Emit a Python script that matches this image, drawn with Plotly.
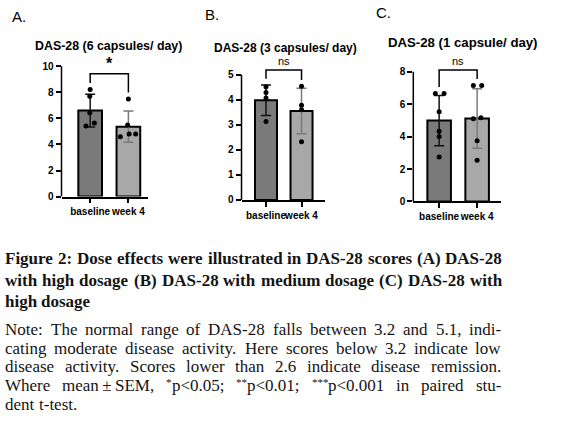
import plotly.graph_objects as go

W, H = 562, 437

# ---------------- data ----------------
groups = ["baseline", "week 4"]

a_title = "DAS-28 (6 capsules/ day)"
a_means = [6.6, 5.37]
a_sd = [1.25, 1.2]
a_base_pts = [8.23, 7.7, 6.44, 5.65, 5.42]
a_wk4_pts = [7.5, 5.5, 4.8, 4.8, 4.6]
a_base_jit = [0.0, -0.01, -0.01, 0.11, -0.11]
a_wk4_jit = [0.0, -0.02, 0.19, 0.02, -0.21]
a_sig = "*"
a_ticks = [0, 2, 4, 6, 8, 10]

b_title = "DAS-28 (3 capsules/ day)"
b_means = [3.98, 3.55]
b_sd = [0.61, 0.91]
b_base_pts = [4.52, 4.29, 4.07, 3.13]
b_wk4_pts = [4.54, 3.78, 3.6, 2.32]
b_base_jit = [0.0, 0.0, 0.0, 0.0]
b_wk4_jit = [0.0, 0.0, 0.0, 0.0]
b_sig = "ns"
b_ticks = [0, 1, 2, 3, 4, 5]

c_title = "DAS-28 (1 capsule/ day)"
c_means = [4.99, 5.12]
c_sd = [1.55, 1.83]
c_base_pts = [6.66, 6.66, 5.53, 4.33, 4.01, 2.75]
c_wk4_pts = [7.15, 7.15, 5.1, 5.17, 3.75, 2.55]
c_base_jit = [-0.1, 0.13, 0.0, 0.0, 0.0, 0.0]
c_wk4_jit = [-0.1, 0.12, -0.1, 0.1, 0.0, 0.0]
c_sig = "ns"
c_ticks = [0, 2, 4, 6, 8]

caption_lines = [
    "Figure 2: Dose effects were illustrated in DAS-28 scores (A) DAS-28",
    "with high dosage (B) DAS-28 with medium dosage (C) DAS-28 with",
    "high dosage",
]
note_lines = [
    "Note: The normal range of DAS-28 falls between 3.2 and 5.1, indi-",
    "cating moderate disease activity. Here scores below 3.2 indicate low",
    "disease activity. Scores lower than 2.6 indicate disease remission.",
    "Where mean\u2009\u00b1\u2009SEM, *p<0.05; **p<0.01; ***p<0.001 in paired stu-",
    "dent t-test.",
]
caption_justified = [True, True, False]
note_justified = [True, True, True, True, False]

# ---------------- layout geometry (pixels) ----------------
panels = [
    dict(letter="A.", title=a_title, means=a_means, sd=a_sd,
         pts=[a_base_pts, a_wk4_pts], jit=[a_base_jit, a_wk4_jit], sig=a_sig,
         ticks=a_ticks, xpx=(61.5, 147.5), xr=(-0.75, 1.5), ypx=(56.7, 199.3), ytop=10.8,
         letter_xy=(10, 17), title_xy=(108, 47), title_size=12.4),
    dict(letter="B.", title=b_title, means=b_means, sd=b_sd,
         pts=[b_base_pts, b_wk4_pts], jit=[b_base_jit, b_wk4_jit], sig=b_sig,
         ticks=b_ticks, xpx=(241.5, 324.6), xr=(-0.69, 1.65), ypx=(55.4, 202.7), ytop=5.8,
         letter_xy=(203, 15), title_xy=(285, 49), title_size=12),
    dict(letter="C.", title=c_title, means=c_means, sd=c_sd,
         pts=[c_base_pts, c_wk4_pts], jit=[c_base_jit, c_wk4_jit], sig=c_sig,
         ticks=c_ticks, xpx=(413.3, 500.7), xr=(-0.68, 1.62), ypx=(53, 204.3), ytop=9.2,
         letter_xy=(374, 13), title_xy=(463, 43), title_size=13.2),
]

bar_fill = ["#7a7a7a", "#a8a8a8"]
err_col = ["#111111", "#7a7a7a"]
FONT = "Arial, Liberation Sans, sans-serif"
SERIF = "Liberation Serif, Times New Roman, serif"
TEXT_COL = "#141414"

# Times (Liberation Serif) advance widths, 1/1000 em, used to justify caption lines
_reg = {" ": 250, "(": 333, ")": 333, ",": 250, "-": 333, ".": 250, ":": 278, ";": 278,
        "<": 564, "\u00b1": 564, "*": 500, "\u2009": 200,
        "A": 722, "D": 722, "E": 611, "H": 722, "M": 889, "N": 722, "S": 556, "T": 611,
        "W": 944, "a": 444, "b": 500, "c": 444, "d": 500, "e": 444, "f": 333, "g": 500,
        "h": 500, "i": 278, "k": 500, "l": 278, "m": 778, "n": 500, "o": 500, "p": 500,
        "r": 333, "s": 389, "t": 278, "u": 500, "v": 500, "w": 722, "y": 500}
_bold = {" ": 250, "(": 333, ")": 333, ",": 250, "-": 333, ".": 250, ":": 333,
         "A": 722, "B": 667, "C": 722, "D": 722, "F": 611, "S": 556,
         "a": 500, "b": 556, "c": 444, "d": 556, "e": 444, "f": 333, "g": 500, "h": 556,
         "i": 278, "l": 278, "m": 833, "n": 556, "o": 500, "r": 444, "s": 389, "t": 333,
         "u": 556, "w": 722, "y": 500}


def tw(s, table, size):
    return sum(table.get(ch, 500) for ch in s) / 1000.0 * size


def esc(s):
    return s.replace("<", "&lt;")


def add_text_line(anns, line, y, size, bold, justify, xl, xr):
    table = _bold if bold else _reg
    sup_size = size * 0.65
    words = line.split(" ")
    parts = []
    for w in words:
        k = len(w) - len(w.lstrip("*"))
        sup, main = w[:k], w[k:]
        width = tw(sup, _reg, sup_size) + tw(main, table, size)
        parts.append((sup, main, width))
    total = sum(p[2] for p in parts)
    if justify and len(parts) > 1:
        gap = (xr - xl - total) / (len(parts) - 1)
    else:
        gap = tw(" ", table, size)
    x = xl
    font = dict(family=SERIF, size=size, color=TEXT_COL, weight="bold" if bold else "normal")
    for sup, main, width in parts:
        if sup:
            anns.append(dict(text=sup, x=(x - 2) / W, y=1 - y / H, xref="paper",
                             yref="paper", xanchor="left", yanchor="middle",
                             showarrow=False, yshift=4,
                             font=dict(family=SERIF, size=sup_size, color=TEXT_COL)))
            x += tw(sup, _reg, sup_size)
        anns.append(dict(text=esc(main), x=(x - 2) / W, y=1 - y / H, xref="paper",
                         yref="paper", xanchor="left", yanchor="middle",
                         showarrow=False, font=font))
        x += tw(main, table, size) + gap


fig = go.Figure()
shapes = []
annotations = []

for i, p in enumerate(panels):
    n = "" if i == 0 else str(i + 1)
    xa, ya = "x" + n, "y" + n
    xs = [0, 1]
    for g in range(2):
        fig.add_trace(go.Bar(
            x=[xs[g]], y=[p["means"][g]], width=0.62,
            marker=dict(color=bar_fill[g], line=dict(color="black", width=2)),
            error_y=dict(type="data", array=[p["sd"][g]], color=err_col[g],
                         thickness=1.5, width=5),
            xaxis=xa, yaxis=ya, showlegend=False, hoverinfo="skip"))
    for g in range(2):
        fig.add_trace(go.Scatter(
            x=[xs[g] + j for j in p["jit"][g]], y=p["pts"][g], mode="markers",
            marker=dict(color="black", size=5),
            xaxis=xa, yaxis=ya, showlegend=False, hoverinfo="skip", cliponaxis=False))

    ymax = max(p["ticks"])
    tops = [max(max(p["pts"][g]), p["means"][g] + p["sd"][g]) for g in range(2)]
    legs = [t + 0.05 * ymax for t in tops]
    btop = max(legs) + 0.07 * ymax
    shapes.append(dict(type="path", xref=xa, yref=ya,
                       path=f"M 0,{legs[0]} L 0,{btop} L 1,{btop} L 1,{legs[1]}",
                       line=dict(color="black", width=1.5)))
    annotations.append(dict(text=p["sig"], x=0.5, y=btop, xref=xa, yref=ya,
                            xanchor="center", yanchor="bottom", showarrow=False,
                            yshift=0 if p["sig"] == "*" else 1,
                            font=dict(family=FONT, size=16 if p["sig"] == "*" else 11,
                                      color="black",
                                      weight="bold" if p["sig"] == "*" else "normal")))
    # y axis line only up to the top tick
    shapes.append(dict(type="line", xref=xa + " domain", yref=ya, x0=0, x1=0,
                       y0=0, y1=ymax, line=dict(color="black", width=1.5)))

    x0, x1 = p["xpx"]
    yt, yb = p["ypx"]
    fig.layout["xaxis" + n] = dict(
        domain=[x0 / W, x1 / W], range=list(p["xr"]), anchor=ya,
        tickvals=[0, 1], ticktext=groups, ticks="outside", ticklen=5, tickwidth=1.5,
        tickcolor="black", showline=True, linecolor="black", linewidth=1.5,
        showgrid=False, zeroline=False, fixedrange=True, tickangle=0,
        tickfont=dict(family=FONT, size=10, color="black", weight="bold"))
    fig.layout["yaxis" + n] = dict(
        domain=[1 - yb / H, 1 - yt / H], range=[0, p["ytop"]], anchor=xa,
        tickvals=p["ticks"], ticks="outside", ticklen=5, tickwidth=1.5,
        tickcolor="black", showline=False, showgrid=False, zeroline=False,
        fixedrange=True,
        tickfont=dict(family=FONT, size=10, color="black", weight="bold"))

    lx, ly = p["letter_xy"]
    annotations.append(dict(text=p["letter"], x=lx / W, y=1 - ly / H, xref="paper",
                            yref="paper", xanchor="left", yanchor="middle",
                            showarrow=False,
                            font=dict(family=FONT, size=15, color="black")))
    tx, ty = p["title_xy"]
    annotations.append(dict(text=p["title"], x=tx / W, y=1 - ty / H, xref="paper",
                            yref="paper", xanchor="center", yanchor="middle",
                            showarrow=False,
                            font=dict(family=FONT, size=p["title_size"], color="black",
                                      weight="bold")))

cap_y = [262, 284, 305.5]
for t, y, j in zip(caption_lines, cap_y, caption_justified):
    add_text_line(annotations, t, y, 17, True, j, 5, 502)
note_y = [334, 353, 372, 391, 410.5]
for t, y, j in zip(note_lines, note_y, note_justified):
    add_text_line(annotations, t, y, 17, False, j, 5, 501)

fig.update_layout(
    width=W, height=H, margin=dict(l=0, r=0, t=0, b=0),
    paper_bgcolor="white", plot_bgcolor="white", barmode="overlay",
    shapes=shapes, annotations=annotations)

fig.write_html("out.html", config={"displayModeBar": False},
               post_script="document.body.style.margin='0';document.body.style.overflow='hidden';")
